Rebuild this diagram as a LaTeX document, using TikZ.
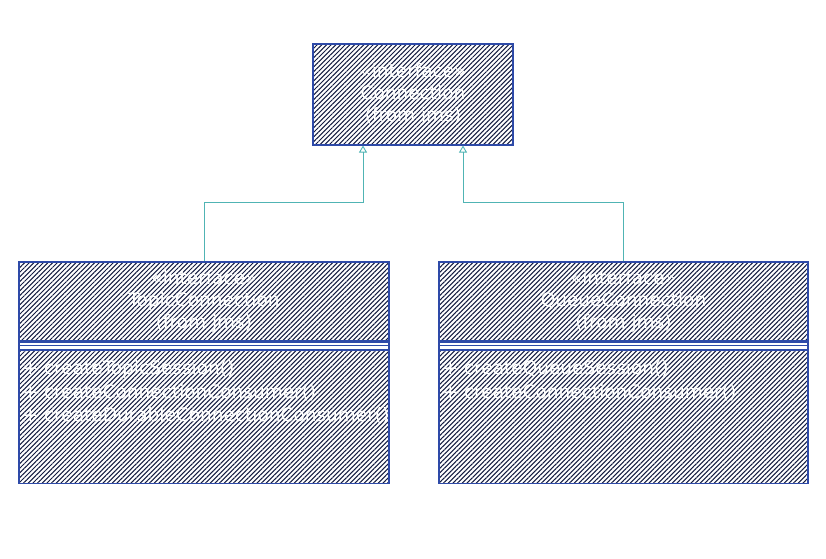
\documentclass[tikz,border=0pt]{standalone}
\usepackage{fontspec}
\usepackage{xcolor}
\usepackage{tikz}
\usetikzlibrary{arrows.meta,positioning,patterns.meta,calc}
\newfontfamily\umlfont{DejaVu Sans}
\definecolor{boxnavy}{RGB}{46,74,168}
\definecolor{hatchnavy}{RGB}{20,28,64}
\definecolor{linkteal}{RGB}{80,180,180}

\begin{document}
\begin{tikzpicture}[
    x=1pt, y=-1pt,
    hatched/.style={rectangle, draw=boxnavy, line width=1.1pt, inner sep=0pt,
        pattern={Lines[angle=45,distance=3.3pt,line width=1.05pt]}, pattern color=hatchnavy},
    head/.style={hatched, font=\umlfont\fontsize{18.5}{22}\selectfont, text=white, align=center},
    band/.style={rectangle, draw=boxnavy, line width=1.1pt, fill=white, inner sep=0pt, minimum height=7pt},
    ops/.style={anchor=north west, font=\umlfont\fontsize{18.5}{23.5}\selectfont, text=white, align=left, inner sep=0pt},
    inherit/.style={-{Triangle[open,length=7pt,width=8pt]}, linkteal, line width=0.9pt}
]
\useasboundingbox (0,0) rectangle (826,558);

% interface on top
\node[head, minimum width=200pt, minimum height=101pt] (conn) at (413,94.5)
    {«interface»\\Connection\\(from jms)};

% left class
\node[head, minimum width=370pt, minimum height=79pt] (topichead) at (204,301.5)
    {«interface»\\TopicConnection\\(from jms)};
\node[band, minimum width=370pt, below=0pt of topichead] (topicband) {};
\node[hatched, minimum width=370pt, minimum height=133pt, below=0pt of topicband] (topicops) {};
\node[ops] (topictext) at ([xshift=4pt,yshift=-11pt]topicops.north west)
    {+ createTopicSession()\\+ createConnectionConsumer()\\+ createDurableConnectionConsumer()};

% right class
\node[head, minimum width=369pt, minimum height=79pt] (queuehead) at (623.5,301.5)
    {«interface»\\QueueConnection\\(from jms)};
\node[band, minimum width=369pt, below=0pt of queuehead] (queueband) {};
\node[hatched, minimum width=369pt, minimum height=133pt, below=0pt of queueband] (queueops) {};
\node[ops] (queuetext) at ([xshift=4pt,yshift=-11pt]queueops.north west)
    {+ createQueueSession()\\+ createConnectionConsumer()};

\draw[boxnavy, line width=0.8pt] (topicband.west) -- (topicband.east);
\draw[boxnavy, line width=0.8pt] (queueband.west) -- (queueband.east);

\coordinate (connl) at ([xshift=-50pt]conn.south);
\coordinate (connr) at ([xshift=50pt]conn.south);
\draw[inherit] (topichead.north) -- ++(0,-59) -| (connl);
\draw[inherit] (queuehead.north) -- ++(0,-59) -| (connr);
\end{tikzpicture}
\end{document}
